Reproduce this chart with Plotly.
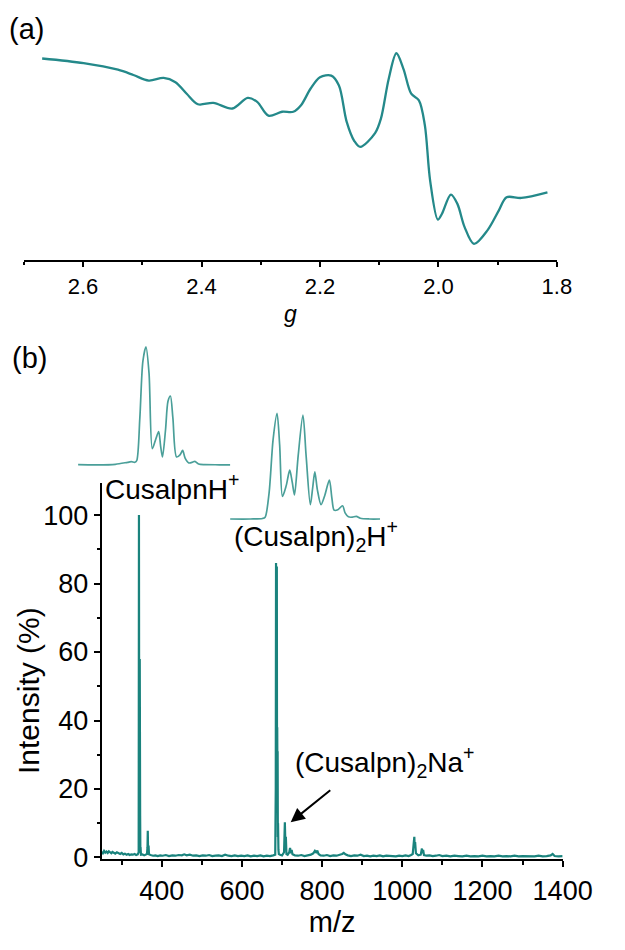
import plotly.graph_objects as go

# ---------------- (a) EPR spectrum ----------------
g_values = [2.669, 2.599, 2.541, 2.515, 2.489, 2.464, 2.444, 2.425, 2.406, 2.380,
            2.348, 2.322, 2.306, 2.287, 2.264, 2.245, 2.232, 2.216, 2.200, 2.181,
            2.168, 2.155, 2.142, 2.132, 2.107, 2.097, 2.084, 2.071, 2.059, 2.046,
            2.033, 2.023, 2.014, 2.001, 1.994, 1.979, 1.968, 1.956, 1.940, 1.917,
            1.898, 1.885, 1.860, 1.816]
epr_signal = [204.7, 200.0, 193.3, 188.0, 182.3, 185.0, 180.7, 169.0, 158.3, 159.7,
              154.0, 164.7, 160.7, 146.7, 150.7, 150.7, 157.3, 174.0, 185.7, 187.3,
              177.3, 140.7, 121.0, 115.0, 129.0, 144.0, 184.0, 210.0, 194.0, 169.0,
              162.3, 137.3, 80.7, 41.3, 47.3, 66.7, 57.3, 34.0, 16.7, 30.7,
              50.7, 64.0, 63.3, 69.0]
g_major = [2.6, 2.4, 2.2, 2.0, 1.8]
g_major_text = ["2.6", "2.4", "2.2", "2.0", "1.8"]
g_minor = [2.7, 2.5, 2.3, 2.1, 1.9]

# ---------------- (b) ESI mass spectrum ----------------
mz = [250, 253, 256, 259, 262, 265, 268, 271, 274, 277, 280, 284, 288, 292, 296,
      300, 304, 308, 312, 316, 320, 324, 328, 332, 336, 340,
      342.3, 342.6, 343, 343.4, 343.7, 344, 344.4, 345, 345.5, 346, 346.5, 347, 348,
      352, 356, 360, 363, 364.3, 365, 365.8, 367, 368, 372, 378, 384, 390, 396,
      402, 410, 418, 426, 434, 442, 450, 456, 462, 470, 478, 486, 494, 502, 510,
      518, 526, 534, 542, 550, 558, 566, 574, 582, 590, 598, 606, 614, 622, 630,
      638, 646, 654, 662, 670, 678, 683,
      684.3, 685, 685.5, 686, 686.5, 687, 687.5, 688, 688.5, 689, 689.5, 690, 691, 692,
      695, 700, 705, 707, 708.5, 709.5, 711, 714, 718, 720, 722, 724, 726,
      732, 740, 748, 756, 764, 772, 778, 782, 785, 788, 791, 796, 804, 812, 820,
      828, 836, 844, 850, 854, 858, 864, 872, 880, 888, 896, 904, 912, 920, 928,
      936, 944, 952, 960, 968, 976, 984, 992, 1000, 1008, 1016, 1022,
      1026, 1028, 1030, 1031, 1032, 1034, 1040, 1046, 1049, 1050.5, 1052, 1054,
      1060, 1068, 1076, 1084, 1092, 1100, 1110, 1120, 1130, 1140, 1150, 1160,
      1170, 1180, 1190, 1200, 1210, 1220, 1230, 1240, 1250, 1260, 1270, 1280,
      1290, 1300, 1310, 1320, 1330, 1340, 1350, 1360, 1370, 1375, 1380, 1390, 1400]
intensity = [1.6, 1.2, 1.9, 1.4, 1.7, 1.3, 1.8, 1.5, 1.2, 1.6, 1.4, 1.1, 1.5, 1.2, 1.0,
             1.3, 0.9, 1.1, 0.8, 1.0, 0.7, 0.9, 0.8, 1.0, 0.7, 0.9,
             1.5, 40, 100, 20, 14, 28, 7, 58, 8, 12, 2, 3, 0.8,
             0.9, 0.6, 0.8, 1.0, 3.0, 7.8, 2.0, 3.5, 0.9, 0.7, 0.5, 0.6, 0.4, 0.6,
             0.5, 0.7, 0.4, 0.6, 0.5, 0.7, 0.6, 0.9, 0.6, 0.8, 0.5, 0.6, 0.4, 0.6, 0.5,
             0.7, 0.4, 0.5, 0.6, 0.4, 0.8, 0.5, 0.4, 0.6, 0.4, 0.5, 0.4, 0.6, 0.3, 0.5,
             0.4, 0.6, 0.3, 0.5, 0.4, 0.6, 0.8,
             20, 86, 40, 40, 35, 85, 25, 38, 18, 31, 6, 10, 2.2, 1.0,
             0.8, 0.6, 1.5, 10.3, 3.0, 6.0, 1.0, 0.8, 1.5, 2.8, 1.2, 2.2, 0.9,
             0.6, 0.5, 0.7, 0.4, 0.6, 0.8, 1.2, 1.9, 1.5, 2.0, 1.0, 0.6, 0.5, 0.7, 0.4,
             0.6, 0.5, 0.7, 1.0, 1.3, 0.9, 0.6, 0.4, 0.6, 0.5, 0.8, 0.4, 0.5, 0.3, 0.5,
             0.4, 0.6, 0.3, 0.5, 0.4, 0.5, 0.3, 0.5, 0.4, 0.6, 0.4, 0.7,
             1.0, 3.5, 6.0, 3.0, 4.5, 1.2, 0.6, 0.8, 2.6, 1.2, 2.2, 0.7,
             0.5, 0.6, 0.4, 0.5, 0.7, 0.4, 0.5, 0.3, 0.5, 0.4, 0.3, 0.5,
             0.3, 0.4, 0.3, 0.5, 0.3, 0.4, 0.3, 0.5, 0.3, 0.4, 0.3, 0.5,
             0.3, 0.4, 0.3, 0.4, 0.3, 0.5, 0.3, 0.4, 0.6, 1.0, 0.4, 0.3, 0.4]
mz_ticks = [400, 600, 800, 1000, 1200, 1400]
mz_minor = [300, 500, 700, 900, 1100, 1300]
int_ticks = [0, 20, 40, 60, 80, 100]
int_minor = [10, 30, 50, 70, 90]

# isotope envelope of CusalpnH+
iso1_mz = [337.45, 339.0, 340.5, 341.5, 341.8, 342.1, 342.25, 342.5, 342.75, 343.0,
           343.25, 343.52, 343.8, 344.04, 344.2, 344.35, 344.6, 344.8, 345.0, 345.2,
           345.5, 345.8, 346.0, 346.2, 346.5, 346.8, 347.0, 347.3, 347.8, 349.0, 350.08]
iso1_int = [0.5, 0.3, 0.8, 2.5, 3.0, 2.5, 4.0, 40, 88, 100,
            78, 14, 22, 28.4, 16, 7, 30, 54, 58.5, 40,
            7, 9, 12.5, 6, 2, 2.5, 3.3, 1.0, 0.5, 0.4, 0.3]
# isotope envelope of (Cusalpn)2H+
iso2_mz = [681.45, 683.0, 683.9, 684.1, 684.4, 684.7, 685.0, 685.2, 685.41, 685.7,
           685.96, 686.15, 686.32, 686.6, 686.96, 687.2, 687.52, 687.7, 687.86, 688.05,
           688.33, 688.6, 688.96, 689.15, 689.32, 689.6, 689.96, 690.15, 690.4, 690.7,
           691.0, 691.3, 692.0, 692.8]
iso2_int = [0.3, 0.3, 0.8, 2.0, 25, 75, 100, 70, 21.6, 32,
            46.3, 35, 23, 60, 98.4, 60, 13.8, 30, 44.8, 28,
            13.8, 22, 37, 20, 8.6, 9, 12.8, 6, 2.3, 2.0, 2.8, 1.0, 0.3, 0.3]

teal = "#1a837d"
teal_top = "#24898a"
teal_inset = "#4a9f99"
font_family = "Liberation Sans, Arial, sans-serif"

fig = go.Figure()
fig.add_trace(go.Scatter(x=g_values, y=epr_signal, mode="lines", xaxis="x", yaxis="y",
                         line=dict(color=teal_top, width=2.3, shape="spline", smoothing=0.9),
                         hoverinfo="skip"))
fig.add_trace(go.Scatter(x=mz, y=intensity, mode="lines", xaxis="x2", yaxis="y2",
                         line=dict(color=teal, width=2.2), hoverinfo="skip"))
fig.add_trace(go.Scatter(x=iso1_mz, y=iso1_int, mode="lines", xaxis="x3", yaxis="y3",
                         line=dict(color=teal_inset, width=1.7, shape="spline", smoothing=0.8),
                         hoverinfo="skip"))
fig.add_trace(go.Scatter(x=iso2_mz, y=iso2_int, mode="lines", xaxis="x4", yaxis="y4",
                         line=dict(color=teal_inset, width=1.7, shape="spline", smoothing=0.8),
                         hoverinfo="skip"))

H = 950.0
W = 625.0


def py(px):
    return 1 - px / H


def px_x(px):
    return px / W


axis_common = dict(showline=True, linecolor="black", linewidth=2, ticks="outside",
                   tickcolor="black", tickwidth=2, showgrid=False, zeroline=False,
                   mirror=False)

fig.update_layout(
    width=625, height=950,
    margin=dict(l=0, r=0, t=0, b=0),
    paper_bgcolor="white", plot_bgcolor="white",
    showlegend=False,
    font=dict(family=font_family, color="black"),
    xaxis=dict(domain=[px_x(25), px_x(585)], range=[2.7, 1.8], anchor="y",
               tickvals=g_major, ticktext=g_major_text, ticklen=5,
               tickfont=dict(size=22),
               minor=dict(tickvals=g_minor, ticks="outside", ticklen=3,
                          tickwidth=2, tickcolor="black"),
               title=dict(text="<i>g</i>", font=dict(size=23), standoff=8),
               **axis_common),
    yaxis=dict(domain=[py(264), py(40)], range=[0, 224], anchor="x", visible=False),
    xaxis2=dict(domain=[px_x(106.8), px_x(591)], range=[250, 1400], anchor="y2",
                tickvals=mz_ticks, ticklen=6, tickfont=dict(size=27),
                minor=dict(tickvals=mz_minor, ticks="outside", ticklen=4,
                           tickwidth=2, tickcolor="black"),
                title=dict(text="m/z", font=dict(size=29), standoff=4),
                **axis_common),
    yaxis2=dict(domain=[py(871.4), py(490)], range=[-0.6, 109.3], anchor="x2",
                tickvals=int_ticks, ticklen=6, tickfont=dict(size=27),
                minor=dict(tickvals=int_minor, ticks="outside", ticklen=3,
                           tickwidth=2, tickcolor="black"),
                **axis_common),
    xaxis3=dict(domain=[px_x(82), px_x(244.3)], range=[337.45, 350.08], anchor="y3",
                visible=False),
    yaxis3=dict(domain=[py(474.1), py(348.1)], range=[-2, 103], anchor="x3",
                visible=False),
    xaxis4=dict(domain=[px_x(241.7), px_x(399.3)], range=[681.45, 692.8], anchor="y4",
                visible=False),
    yaxis4=dict(domain=[py(528.65), py(415.8)], range=[-2, 103], anchor="x4",
                visible=False),
)

annotations = [
    dict(text="(a)", x=px_x(28), y=py(29), xref="paper", yref="paper",
         xanchor="center", yanchor="middle", showarrow=False, font=dict(size=29)),
    dict(text="(b)", x=px_x(31), y=py(363), xref="paper", yref="paper",
         xanchor="center", yanchor="middle", showarrow=False, font=dict(size=29)),
    dict(text="Intensity (%)", x=px_x(30), y=py(700), xref="paper", yref="paper",
         xanchor="center", yanchor="middle", textangle=-90, showarrow=False,
         font=dict(size=30)),
    dict(text="CusalpnH<sup>+</sup>", x=253, y=108.3, xref="x2", yref="y2",
         xanchor="left", yanchor="middle", showarrow=False, font=dict(size=28)),
    dict(text="(Cusalpn)<sub>2</sub>H<sup>+</sup>", x=575, y=94.0, xref="x2", yref="y2",
         xanchor="left", yanchor="middle", showarrow=False, font=dict(size=28)),
    dict(text="(Cusalpn)<sub>2</sub>Na<sup>+</sup>", x=727, y=28.0, xref="x2", yref="y2",
         xanchor="left", yanchor="middle", showarrow=False, font=dict(size=28)),
    dict(text="", x=721.5, y=10.3, xref="x2", yref="y2",
         ax=824, ay=20.0, axref="x2", ayref="y2", showarrow=True,
         arrowhead=2, arrowsize=1.4, arrowwidth=2, arrowcolor="black", standoff=0),
]
fig.update_layout(annotations=annotations)

fig.write_html("out.html")
